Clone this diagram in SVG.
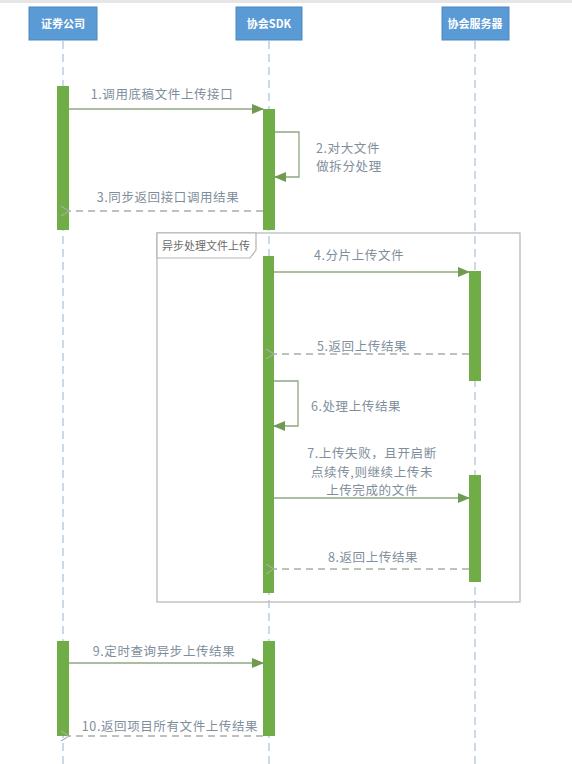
<svg xmlns="http://www.w3.org/2000/svg" width="572" height="764" viewBox="0 0 572 764">
<style>
.hdr{fill:#5B9BD5;stroke:#4a88c0;stroke-width:1}
.hdrt{fill:#fff;font-family:"Noto Sans CJK SC","Liberation Sans",sans-serif;font-size:11px;font-weight:bold;text-anchor:middle}
.life{stroke:#a9c1d8;stroke-width:1.2;stroke-dasharray:8 5;fill:none}
.act{fill:#70AD47}
.msg{stroke:#8fa882;stroke-width:1.3;fill:none}
.ret{stroke:#a8aea4;stroke-width:1.3;stroke-dasharray:7 5;fill:none}
.lbl{fill:#808e9b;font-family:"Noto Sans CJK SC","Liberation Sans",sans-serif;font-size:12.5px;letter-spacing:0.6px;text-anchor:middle}
.frame{fill:none;stroke:#b4b4b4;stroke-width:1.2}
.tab{fill:#fff;stroke:#b4b4b4;stroke-width:1.2}
.tabt{fill:#6a6a6a;font-family:"Noto Sans CJK SC","Liberation Sans",sans-serif;font-size:11px}
</style>
<defs>
<marker id="fill" markerWidth="12" markerHeight="10" refX="11" refY="5" orient="auto" markerUnits="userSpaceOnUse">
<path d="M0,0 L12,5 L0,10 Z" fill="#6f9a50"/>
</marker>
<marker id="open" markerWidth="10" markerHeight="10" refX="1" refY="5" orient="auto" markerUnits="userSpaceOnUse">
<path d="M9,0 L1,5 L9,10" fill="none" stroke="#a8aea4" stroke-width="1.1"/>
</marker>
</defs>
<rect x="0" y="0" width="572" height="764" fill="#fff"/>
<rect x="0" y="0" width="572" height="3" fill="#e6e6e6"/>

<g id="frame">
<rect class="frame" x="157" y="233" width="363" height="369"/>
<path class="tab" d="M157,233 L256,233 L256,250 L250,258 L157,258 Z"/>
<text class="tabt" x="162" y="250">异步处理文件上传</text>
</g>

<g id="lifelines">
<line class="life" x1="63" y1="41" x2="63" y2="764"/>
<line class="life" x1="269" y1="41" x2="269" y2="764"/>
<line class="life" x1="475" y1="41" x2="475" y2="764"/>
</g>

<g id="node-company">
<rect class="hdr" x="29" y="7" width="68" height="33"/>
<text class="hdrt" x="63" y="28">证券公司</text>
</g>
<g id="node-sdk">
<rect class="hdr" x="236" y="7" width="66" height="33"/>
<text class="hdrt" x="269" y="28">协会SDK</text>
</g>
<g id="node-server">
<rect class="hdr" x="442" y="7" width="67" height="33"/>
<text class="hdrt" x="475" y="28">协会服务器</text>
</g>

<g id="activations">
<rect class="act" x="57" y="86" width="12" height="144"/>
<rect class="act" x="263" y="109" width="12" height="121"/>
<rect class="act" x="263" y="256" width="11" height="337"/>
<rect class="act" x="469" y="271" width="12" height="110"/>
<rect class="act" x="469" y="475" width="12" height="107"/>
<rect class="act" x="57" y="641" width="12" height="95"/>
<rect class="act" x="263" y="641" width="12" height="95"/>
</g>

<g id="connectors">
<line class="msg" x1="69" y1="109" x2="263" y2="109" marker-end="url(#fill)"/>
<polyline class="msg" points="275,132 299,132 299,177 275,177" marker-end="url(#fill)"/>
<line class="ret" x1="263" y1="211" x2="69" y2="211" marker-end="url(#open)"/>
<line class="msg" x1="274" y1="272" x2="469" y2="272" marker-end="url(#fill)"/>
<line class="ret" x1="469" y1="354" x2="274" y2="354" marker-end="url(#open)"/>
<polyline class="msg" points="274,381 298,381 298,426 274,426" marker-end="url(#fill)"/>
<line class="msg" x1="274" y1="498" x2="469" y2="498" marker-end="url(#fill)"/>
<line class="ret" x1="469" y1="569" x2="274" y2="569" marker-end="url(#open)"/>
<line class="msg" x1="69" y1="663" x2="263" y2="663" marker-end="url(#fill)"/>
<line class="ret" x1="263" y1="736" x2="69" y2="736" marker-end="url(#open)"/>
</g>

<g id="labels">
<text class="lbl" x="162" y="99">1.调用底稿文件上传接口</text>
<text class="lbl" x="348" y="153">2.对大文件</text>
<text class="lbl" x="349" y="171">做拆分处理</text>
<text class="lbl" x="168" y="202">3.同步返回接口调用结果</text>
<text class="lbl" x="359" y="260">4.分片上传文件</text>
<text class="lbl" x="362" y="351">5.返回上传结果</text>
<text class="lbl" x="356" y="411">6.处理上传结果</text>
<text class="lbl" x="372" y="458">7.上传失败，且开启断</text>
<text class="lbl" x="372" y="477">点续传,则继续上传未</text>
<text class="lbl" x="372" y="495">上传完成的文件</text>
<text class="lbl" x="373" y="562">8.返回上传结果</text>
<text class="lbl" x="164" y="656">9.定时查询异步上传结果</text>
<text class="lbl" x="170" y="731">10.返回项目所有文件上传结果</text>
</g>
</svg>
